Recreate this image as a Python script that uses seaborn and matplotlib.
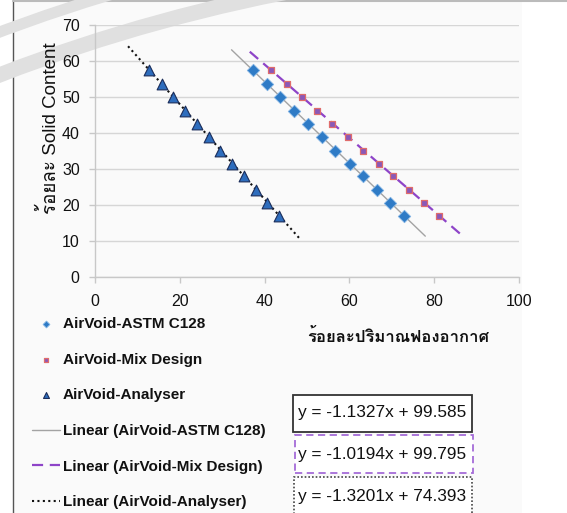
import numpy as np
import pandas as pd
import matplotlib
matplotlib.use("Agg")
import matplotlib.pyplot as plt
import matplotlib.patches as mpatches
import matplotlib.transforms as mtransforms
import matplotlib.font_manager as fm
from matplotlib.ft2font import FT2Font
import seaborn as sns

# ---------------- data ----------------
solid_content = [57.4, 53.5, 49.9, 46.2, 42.6, 38.9, 35.1, 31.5, 28.0, 24.1, 20.5, 16.9]
astm_x = [37.2, 40.6, 43.7, 47.0, 50.2, 53.5, 56.6, 60.1, 63.2, 66.4, 69.5, 72.9]
mix_x = [41.5, 45.2, 48.8, 52.4, 56.0, 59.6, 63.2, 66.9, 70.4, 74.1, 77.6, 81.2]
analyser_x = [12.8, 15.7, 18.4, 21.2, 24.1, 26.9, 29.5, 32.4, 35.2, 37.9, 40.6, 43.5]

series_names = ["AirVoid-ASTM C128", "AirVoid-Mix Design", "AirVoid-Analyser"]
slopes = [-1.1327, -1.0194, -1.3201]
intercepts = [99.585, 99.795, 74.393]
equations = ["y = -1.1327x + 99.585", "y = -1.0194x + 99.795", "y = -1.3201x + 74.393"]
trend_extend = 5.0

x_ticks = [0, 20, 40, 60, 80, 100]
y_ticks = [0, 10, 20, 30, 40, 50, 60, 70]
x_label = "ร้อยละปริมาณฟองอากาศ"
y_label = "ร้อยละ Solid Content"

# ---------------- fonts ----------------
sns.set_theme(style="white")
thai_font = None
for f in fm.fontManager.ttflist:
    try:
        ft = FT2Font(f.fname)
        if ft.get_char_index(ord("ร")) and ft.get_char_index(ord("ฟ")):
            thai_font = f.name
            break
    except Exception:
        pass
base = ["Liberation Sans", "DejaVu Sans"]
plt.rcParams["font.family"] = base
thai_family = ([thai_font] if thai_font else []) + base
mixed_family = ["Liberation Sans"] + ([thai_font] if thai_font else []) + ["DejaVu Sans"]

W, H = 567, 513
fig = plt.figure(figsize=(W / 100, H / 100), dpi=100, facecolor="white")
px = mtransforms.Affine2D().scale(1 / W, -1 / H).translate(0, 1) + fig.transFigure

# background frame of the original chart area
fig.patches.append(mpatches.Rectangle((13, 0), 509, 520, transform=px, facecolor="#FAFAFA",
                                      edgecolor="none", zorder=-10))
fig.lines.append(plt.Line2D([13, 13], [0, 513], transform=px, color="#555555", lw=1.0, zorder=-5))
fig.lines.append(plt.Line2D([13, 567], [1, 1], transform=px, color="#BBBBBB", lw=1.5, zorder=-5))

# faint watermark arcs
for r, lw in [(1717, 11), (1757, 8)]:
    fig.patches.append(mpatches.Arc((617, 1677), 2 * r, 2 * r, transform=px,
                                    theta1=0, theta2=360, color="#E0E0E0", lw=lw, zorder=-4))

ax = fig.add_axes([95 / W, (H - 277) / H, 424 / W, 252 / H])
ax.set_facecolor("none")

# ---------------- marks ----------------
df = pd.DataFrame({
    "x": astm_x + mix_x + analyser_x,
    "y": solid_content * 3,
    "series": [series_names[0]] * len(astm_x) + [series_names[1]] * len(mix_x) + [series_names[2]] * len(analyser_x),
})
marker_styles = [
    dict(marker="D", s=40, color="#2F7BC6", edgecolor="#7FB2E3", linewidth=0.6),
    dict(marker="s", s=16, color="#8A58B8", edgecolor="#E06C6C", linewidth=0.9),
    dict(marker="^", s=60, color="#2E6DBD", edgecolor="#1B2D5A", linewidth=0.8),
]
for name, st in zip(series_names, marker_styles):
    sub = df[df["series"] == name]
    sns.scatterplot(data=sub, x="x", y="y", ax=ax, label=name, zorder=4, **st)

line_styles = [
    dict(color="#A3A3A3", lw=1.0, linestyle="-"),
    dict(color="#8E44C8", lw=1.6, linestyle=(0, (5, 3))),
    dict(color="#111111", lw=1.5, linestyle=(0, (1, 1.6))),
]
for name, xs, m, b, st in zip(series_names, [astm_x, mix_x, analyser_x], slopes, intercepts, line_styles):
    tx = np.array([min(xs) - trend_extend, max(xs) + trend_extend])
    tdf = pd.DataFrame({"x": tx, "y": m * tx + b})
    sns.lineplot(data=tdf, x="x", y="y", ax=ax, label=f"Linear ({name})", zorder=3, **st)

# ---------------- axes ----------------
ax.set_xlim(0, 100)
ax.set_ylim(0, 70)
ax.set_xticks(x_ticks)
ax.set_yticks(y_ticks)
ax.set_xlabel("")
ax.set_ylabel("")
ax.grid(axis="y", color="#D6D6D6", lw=1.0)
ax.grid(axis="x", visible=False)
for side in ["top", "right"]:
    ax.spines[side].set_visible(False)
for side in ["left", "bottom"]:
    ax.spines[side].set_color("#C8C8C8")
    ax.spines[side].set_linewidth(1.0)
ax.tick_params(axis="both", which="major", length=4, width=1.0, color="#C8C8C8",
               labelsize=11.5, labelcolor="#111111", direction="out", bottom=True, left=True)
ax.tick_params(axis="x", pad=8)
ax.tick_params(axis="y", pad=7)

handles, labels = ax.get_legend_handles_labels()
ax.get_legend().remove()
leg = fig.legend(handles, labels, loc="upper left", bbox_to_anchor=(32 / W, 1 - 317 / H),
                 frameon=False, borderpad=0, borderaxespad=0, handlelength=1.85,
                 handletextpad=0.15, labelspacing=1.42, markerscale=0.55,
                 prop=dict(family=base, weight="bold", size=11))
for t in leg.get_texts():
    t.set_color("#111111")

fig.text(398, 337, x_label, transform=px, ha="center", va="center", fontsize=12,
         fontweight="bold", family=thai_family, color="#111111")
fig.text(49, 128, y_label, transform=px, ha="center", va="center", rotation=90,
         fontsize=13.5, family=mixed_family, color="#111111")

# equation boxes
boxes = [
    ((293, 395, 179, 37), dict(edgecolor="#333333", lw=1.3, linestyle="-")),
    ((295, 435, 178, 38), dict(edgecolor="#A56CD8", lw=1.3, linestyle=(0, (4, 2.5)))),
    ((294, 477, 178, 45), dict(edgecolor="#444444", lw=1.2, linestyle=(0, (1, 1.2)))),
]
for (bx, by, bw, bh), st in boxes:
    fig.patches.append(mpatches.Rectangle((bx, by + bh), bw, -bh, transform=px, facecolor="white",
                                          zorder=5, **st))
eq_y = [413, 454, 496]
for eq, yy in zip(equations, eq_y):
    fig.text(298, yy, eq, transform=px, ha="left", va="center", fontsize=12.4, color="#111111", zorder=6)

fig.savefig("out.png", dpi=100, facecolor=fig.get_facecolor())
